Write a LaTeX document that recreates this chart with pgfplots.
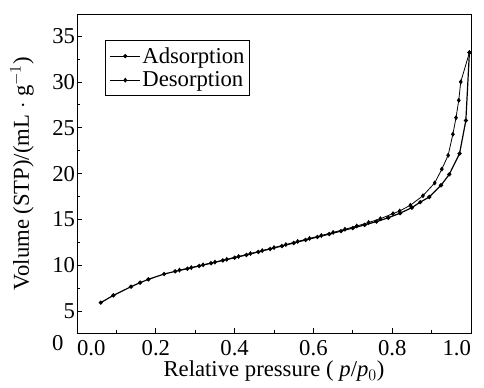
\documentclass[border=0pt]{standalone}
\usepackage{pgfplots}
\pgfplotsset{compat=1.18}
\usepackage{fontspec}
\setmainfont{Liberation Serif}
\begin{document}
\begin{tikzpicture}
\begin{axis}[
  scale only axis,
  width=295pt, height=239pt,
  xmin=0, xmax=1.0, ymin=2.63, ymax=37.4,
  xtick={0,0.2,0.4,0.6,0.8,1.0},
  xticklabels={\rlap{0.0},0.2,0.4,0.6,0.8,\llap{1.0}},
  minor x tick num=1,
  ytick={5,10,15,20,25,30,35},
  minor y tick num=1,
  tick align=inside,
  xtick pos=bottom, ytick pos=left,
  major tick length=3.5pt, minor tick length=2pt,
  tick style={black, line width=0.6pt},
  axis line style={line width=0.7pt},
  /pgf/number format/assume math mode=true,
  ticklabel style={font=\fontsize{17}{20}\selectfont},
  yticklabel style={xshift=2pt},
  xticklabel style={yshift=-2pt},
  label style={font=\fontsize{17}{20}\selectfont},
  xlabel={Relative pressure ( \textit{p}/\textit{p}$_0$)},
  ylabel={Volume (STP)/(mL $\cdot$ g$^{-1}$)},
  xlabel style={yshift=3pt},
  ylabel style={yshift=7pt},
  legend style={at={(0.071,0.918)}, anchor=north west, draw=black, line width=0.6pt,
    font=\fontsize{17}{20}\selectfont, inner xsep=3pt, inner ysep=3pt, row sep=1pt,
    nodes={inner xsep=1pt}},
  legend image code/.code={
    \draw[mark repeat=2,mark phase=2] plot coordinates {(0cm,0cm) (0.4cm,0cm) (0.8cm,0cm)};},
  legend cell align=left,
  clip=false,
]
\addplot[black, line width=0.9pt, mark=*, mark size=1.1pt] coordinates {
(0.06,5.95) (0.092,6.74) (0.137,7.69) (0.16,8.13) (0.181,8.49) (0.221,9.07)
(0.249,9.36) (0.28,9.65) (0.31,9.95) (0.34,10.25) (0.37,10.55) (0.40,10.85)
(0.43,11.15) (0.46,11.48) (0.49,11.80) (0.52,12.12) (0.55,12.45) (0.58,12.78)
(0.61,13.10) (0.64,13.42) (0.67,13.75) (0.70,14.08) (0.73,14.42) (0.76,14.78)
(0.79,15.20) (0.82,15.70) (0.85,16.30) (0.871,16.9) (0.894,17.46) (0.924,18.74)
(0.945,19.94) (0.971,22.2) (0.987,25.8) (0.996,33.2)
};
\addlegendentry{Adsorption}
\addplot[black, line width=0.6pt, mark=diamond*, mark size=1.4pt] coordinates {
(0.996,33.2) (0.974,30.0) (0.969,28.0) (0.962,26.1) (0.954,24.3) (0.942,22.0)
(0.926,20.5) (0.908,19.0) (0.878,17.6) (0.846,16.56) (0.819,15.94) (0.802,15.65)
(0.77,15.1) (0.74,14.68) (0.71,14.3) (0.68,13.95) (0.65,13.6) (0.62,13.27)
(0.59,12.95) (0.56,12.62) (0.53,12.28) (0.50,11.95) (0.47,11.62) (0.44,11.3)
(0.41,10.98) (0.38,10.67) (0.35,10.37) (0.32,10.07) (0.29,9.77) (0.26,9.5)
};
\addlegendentry{Desorption}
\node[font=\fontsize{17}{20}\selectfont] at (rel axis cs:0,0) [xshift=-14.5pt, yshift=-7.5pt] {0};
\path (rel axis cs:1,1) ++(9.75pt,10.5pt);
\path (rel axis cs:0,0) ++(-57.75pt,-40.5pt);
\end{axis}
\end{tikzpicture}
\end{document}
